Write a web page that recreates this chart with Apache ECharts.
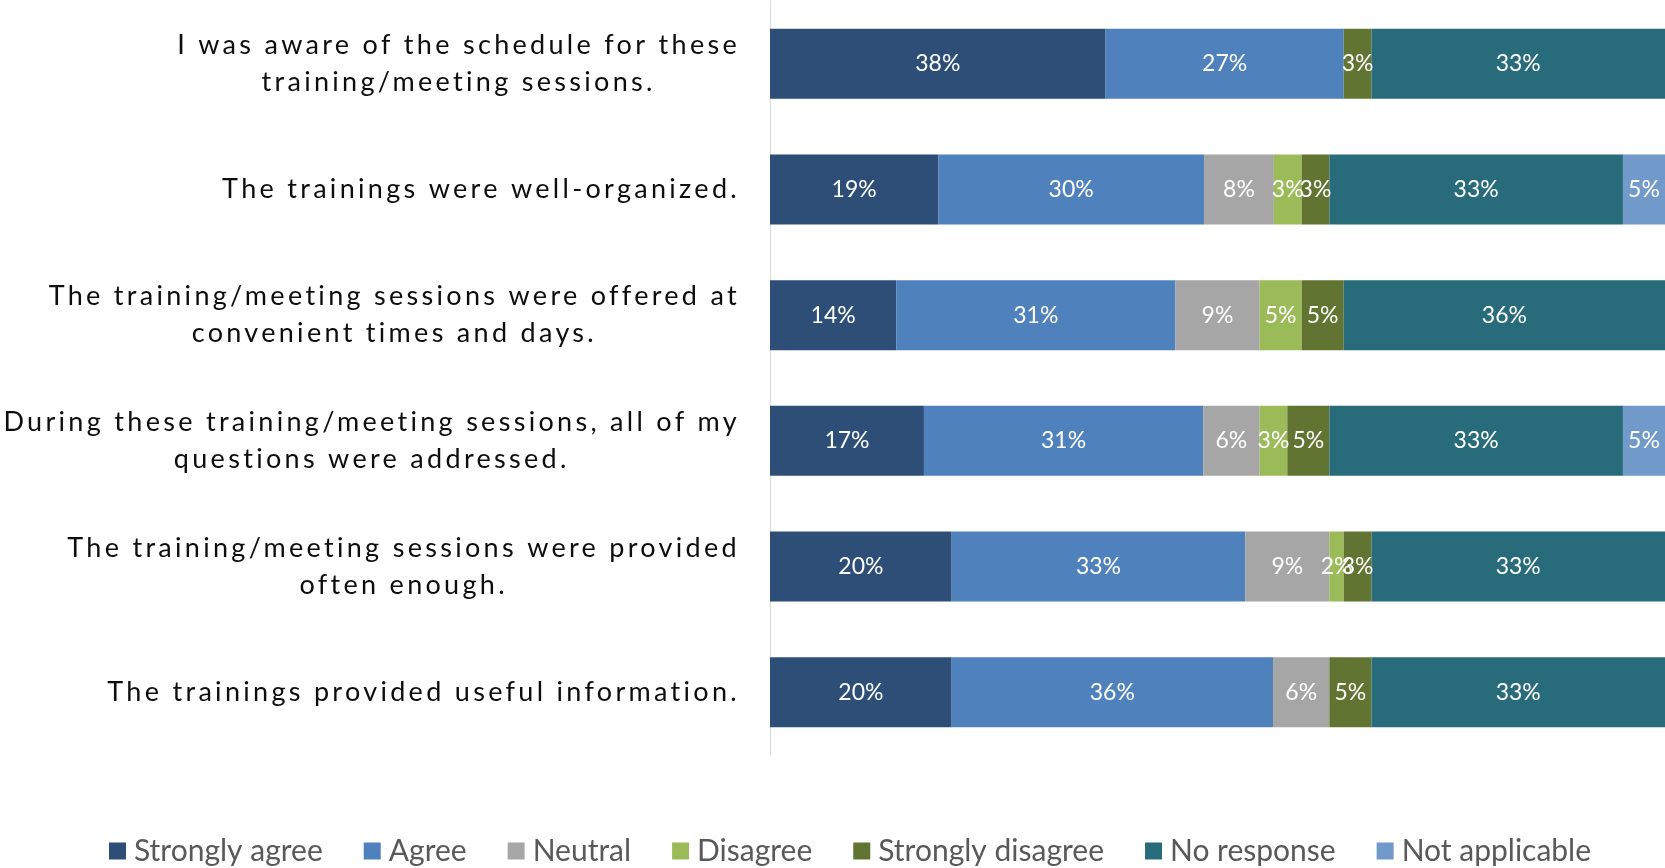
<!DOCTYPE html>
<html>
<head>
<meta charset="utf-8">
<script src="https://cdn.jsdelivr.net/npm/echarts@6/dist/echarts.min.js"></script>
<style>
html,body{margin:0;padding:0;background:#ffffff;}
#chart{width:1665px;height:868px;}
</style>
</head>
<body>
<div id="chart"></div>
<script>
// ---- Data (percent of respondents) ----
const categories = [
  "I was aware of the schedule for these\ntraining/meeting sessions.",
  "The trainings were well-organized.",
  "The training/meeting sessions were offered at\nconvenient times and days.",
  "During these training/meeting sessions, all of my\nquestions were addressed.",
  "The training/meeting sessions were provided\noften enough.",
  "The trainings provided useful information."
];
const seriesNames = ["Strongly agree", "Agree", "Neutral", "Disagree", "Strongly disagree", "No response", "Not applicable"];
const stronglyAgree    = [37.5, 18.8, 14.1, 17.2, 20.3, 20.3];
const agree            = [26.6, 29.7, 31.2, 31.2, 32.8, 35.9];
const neutral          = [null, 7.8, 9.4, 6.3, 9.4, 6.3];
const disagree         = [null, 3.1, 4.7, 3.1, 1.6, null];
const stronglyDisagree = [3.1, 3.1, 4.7, 4.7, 3.1, 4.7];
const noResponse       = [32.8, 32.8, 35.9, 32.8, 32.8, 32.8];
const notApplicable    = [null, 4.7, null, 4.7, null, null];

const seriesData = [stronglyAgree, agree, neutral, disagree, stronglyDisagree, noResponse, notApplicable];
const colors = ["#2d4e76", "#4f81bd", "#a6a6a6", "#9bbb59", "#617431", "#286b7b", "#7199c9"];

// Wide tracking for the category labels (27px text only)
(function () {
  const P = CanvasRenderingContext2D.prototype;
  const origFill = P.fillText, origMeasure = P.measureText;
  const ls = (ctx) => (ctx.font.indexOf('27px') >= 0 ? '3.3px' : '0px');
  P.fillText = function (t, x, y, m) { this.letterSpacing = ls(this); return m === undefined ? origFill.call(this, t, x, y) : origFill.call(this, t, x, y, m); };
  P.measureText = function (t) { this.letterSpacing = ls(this); return origMeasure.call(this, t); };
})();

const chart = echarts.init(document.getElementById('chart'), null, { renderer: 'canvas' });

const series = seriesNames.map((name, i) => ({
  name: name,
  type: 'bar',
  stack: 'total',
  barWidth: 70,
  data: seriesData[i],
  itemStyle: { color: colors[i] },
  label: {
    show: true,
    position: 'inside',
    color: '#ffffff',
    fontFamily: 'Lato',
    fontSize: 23,
    formatter: (p) => (p.value == null ? '' : Math.round(p.value) + '%')
  },
  emphasis: { disabled: true }
}));

chart.setOption({
  animation: false,
  backgroundColor: '#ffffff',
  grid: { left: 770, right: 0, top: 1, height: 754, containLabel: false, outerBoundsMode: 'none' },
  xAxis: {
    type: 'value', min: 0, max: 100,
    show: false
  },
  yAxis: {
    type: 'category',
    inverse: true,
    data: categories,
    axisLine: { show: true, lineStyle: { color: '#d9d9d9', width: 1 } },
    axisTick: { show: false },
    splitLine: { show: false },
    axisLabel: {
      margin: 30,
      align: 'right',
      formatter: (v) => v.split('\n').map(l => '{c|' + l + '}').join('\n'),
      rich: {
        c: { align: 'center', fontFamily: 'Lato', fontSize: 27, lineHeight: 37, color: '#0d0d0d' }
      }
    }
  },
  legend: {
    data: seriesNames,
    left: 104,
    top: 831,
    icon: 'rect',
    itemWidth: 17,
    itemHeight: 17,
    itemGap: 41,
    textStyle: { fontFamily: 'Lato', fontSize: 30, color: '#595959', padding: [0, 0, 0, 3] }
  },
  series: series
});
</script>
</body>
</html>
